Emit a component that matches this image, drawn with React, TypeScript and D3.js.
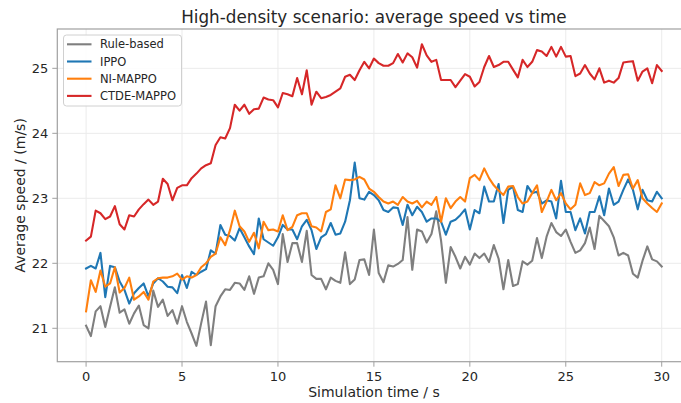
import React from "react";
import * as d3 from "d3";

const TITLE = "High-density scenario: average speed vs time";
const X_LABEL = "Simulation time / s";
const Y_LABEL = "Average speed / (m/s)";
const X_TICKS = [0, 5, 10, 15, 20, 25, 30];
const Y_TICKS = [21, 22, 23, 24, 25];
const SERIES_NAMES = ["Rule-based", "IPPO", "NI-MAPPO", "CTDE-MAPPO"];
const SERIES_COLORS = ["#7f7f7f", "#1f77b4", "#ff7f0e", "#d62728"];

// sampling times 0..30 s every 0.25 s
const times = d3.range(0, 121).map((i) => i / 4);

const ruleBased = [
  21.04, 20.88, 21.26, 21.34, 21.02, 21.33, 21.63, 21.24, 21.29, 21.07,
  21.23, 21.35, 21.05, 21.0, 21.58, 21.33, 21.44, 21.19, 21.28, 21.07,
  21.34, 21.1, 20.92, 20.73, 21.08, 21.41, 20.74, 21.34, 21.49, 21.6,
  21.59, 21.7, 21.69, 21.59, 21.8, 21.53, 21.78, 21.8, 22.0, 21.9,
  21.68, 22.45, 22.02, 22.31, 22.31, 22.02, 22.5, 21.82, 21.76, 21.76,
  21.6, 21.78, 21.73, 21.7, 22.17, 21.68, 21.75, 22.05, 22.06, 21.82,
  22.52, 21.85, 21.71, 21.97, 21.95, 21.99, 22.05, 22.71, 21.9, 22.52,
  22.49, 22.32, 22.45, 22.8, 22.35, 21.7, 22.25, 22.1, 21.92, 22.1,
  21.98, 22.15, 22.08, 22.15, 22.02, 22.28, 22.07, 21.6, 22.05, 21.65,
  21.68, 22.03, 21.98, 22.04, 22.39, 22.08, 22.41, 22.62, 22.48, 22.42,
  22.52, 22.33, 22.16, 22.2, 22.31, 22.55, 22.22, 22.73, 22.65, 22.57,
  22.4, 22.12, 22.16, 22.12, 21.84, 21.78, 22.04, 22.26, 22.06, 22.03,
  21.95,
];

const ippo = [
  21.92, 21.96, 21.92, 22.16, 21.48, 21.96, 21.94, 21.72, 21.59, 21.38,
  21.54, 21.62, 21.69, 21.49, 21.69, 21.77, 21.72, 21.64, 21.63, 21.54,
  21.82, 21.62, 21.87, 21.82, 21.87, 21.91, 22.2, 22.15, 22.59, 22.44,
  22.42, 22.35, 22.54, 22.4, 22.26, 22.14, 22.69, 22.37, 22.32, 22.27,
  22.4, 22.59, 22.52, 22.52, 22.37, 22.57, 22.67, 22.51, 22.22, 22.4,
  22.45, 22.62, 22.44, 22.46, 22.64, 22.97, 23.55, 23.0, 22.98, 23.1,
  23.05, 22.97, 22.82, 22.79, 22.86, 22.85, 22.59, 22.9, 22.74, 22.87,
  22.79, 22.64, 22.69, 22.69, 22.64, 22.44, 22.64, 22.67, 22.74, 22.83,
  22.52, 22.82, 22.77, 23.18, 22.95, 22.95, 23.22, 22.62, 23.13, 23.18,
  22.82, 22.79, 23.19, 23.08, 23.1, 22.92, 22.97, 22.95, 22.69, 23.27,
  22.79, 22.79, 22.51, 22.69, 22.46, 22.79, 22.79, 23.03, 22.74, 23.15,
  22.9, 22.95, 23.13, 23.29, 23.13, 22.83, 23.13, 22.97, 22.95, 23.1,
  23.0,
];

const niMappo = [
  21.26, 21.74, 21.56, 21.89, 21.64, 21.69, 21.94, 21.55, 21.62, 21.78,
  21.44, 21.49, 21.56, 21.44, 21.72, 21.77, 21.78, 21.78, 21.8, 21.84,
  21.75, 21.8, 21.78, 21.82, 21.94, 22.0, 22.1, 22.15, 22.4, 22.28,
  22.51, 22.81, 22.57, 22.49, 22.33, 22.47, 22.23, 22.64, 22.51, 22.52,
  22.49, 22.74, 22.51, 22.56, 22.74, 22.77, 22.77, 22.57, 22.55, 22.49,
  22.79, 22.83, 23.2, 23.0, 23.29, 23.28, 23.29, 23.33, 23.29, 23.15,
  23.1, 23.02, 22.95, 22.92, 22.95, 22.9, 23.02, 22.95, 22.92, 22.96,
  22.86, 22.95, 22.9, 23.02, 22.64, 23.0, 22.85, 22.95, 23.02, 22.95,
  23.31, 23.36, 23.28, 23.46, 23.31, 23.2, 23.12, 23.05, 23.18, 23.19,
  23.02, 22.92, 22.95, 23.08, 23.2, 22.79, 22.95, 23.13, 22.97, 23.08,
  22.92, 22.83, 22.9, 23.23, 23.05, 23.08, 23.25, 23.2, 23.23, 23.38,
  23.48, 23.19, 23.36, 23.37, 23.15, 23.28, 23.0, 22.92, 22.85, 22.79,
  22.92,
];

const ctdeMappo = [
  22.35, 22.41, 22.81, 22.77, 22.68, 22.72, 22.88, 22.6, 22.52, 22.74,
  22.72, 22.83, 22.91, 22.98, 22.9, 22.95, 23.3, 23.22, 22.97, 23.16,
  23.2, 23.2, 23.31, 23.38, 23.46, 23.51, 23.54, 23.82, 23.94, 23.92,
  24.08, 24.44, 24.35, 24.44, 24.3, 24.37, 24.38, 24.55, 24.52, 24.51,
  24.4, 24.62, 24.6, 24.57, 24.85, 24.6, 24.97, 24.44, 24.64, 24.54,
  24.56, 24.59, 24.64, 24.69, 24.87, 24.9, 24.82, 24.97, 25.1, 25.0,
  25.15, 25.08, 25.04, 25.04, 25.08, 25.22, 25.09, 25.23, 25.17, 25.01,
  25.37, 25.2, 25.1, 25.13, 24.82, 24.82, 24.82, 24.71, 24.81, 24.91,
  24.87, 24.72, 24.79, 25.02, 25.19, 25.02, 25.05, 25.1, 25.1, 24.98,
  24.86, 25.13, 25.02, 25.1, 25.28, 25.26, 25.19, 25.33, 25.18, 25.33,
  25.18, 25.19, 24.88, 24.92, 25.05, 24.92, 24.83, 25.0, 24.78, 24.81,
  24.78, 24.85, 25.09, 25.1, 25.11, 24.81, 24.95, 25.0, 24.77, 25.05,
  24.96,
];

const seriesValues = [ruleBased, ippo, niMappo, ctdeMappo];

const W = 681;
const H = 403;
const FONT = "DejaVu Sans, Verdana, sans-serif";

export default function App() {
  const left = 57.3;
  const right = 690.5;
  const top = 29;
  const bottom = 361.7;

  const x = d3.scaleLinear().domain([-1.5, 31.5]).range([left, right]);
  const y = d3.scaleLinear().domain([20.486, 25.605]).range([bottom, top]);

  const line = d3
    .line<number>()
    .x((_, i) => x(times[i]))
    .y((d) => y(d));

  const spine = "#a0a0a0";
  const grid = "#ebebeb";
  const textColor = "#262626";

  const legendX = 63.5;
  const legendY = 35;
  const rowH = 17.2;

  return (
    <svg
      width={W}
      height={H}
      style={{ position: "absolute", left: 0, top: 0, background: "#fff" }}
      fontFamily={FONT}
    >
      <rect x={0} y={0} width={W} height={H} fill="#fff" />
      <defs>
        <clipPath id="plotclip">
          <rect x={left} y={top} width={right - left} height={bottom - top} />
        </clipPath>
      </defs>
      {/* grid */}
      {X_TICKS.map((t) => (
        <line key={"gx" + t} x1={x(t)} x2={x(t)} y1={top} y2={bottom} stroke={grid} strokeWidth={1} />
      ))}
      {Y_TICKS.map((v) => (
        <line key={"gy" + v} x1={left} x2={right} y1={y(v)} y2={y(v)} stroke={grid} strokeWidth={1} />
      ))}
      {/* lines */}
      <g clipPath="url(#plotclip)">
        {seriesValues.map((vals, k) => (
          <path
            key={SERIES_NAMES[k]}
            d={line(vals) || ""}
            fill="none"
            stroke={SERIES_COLORS[k]}
            strokeWidth={2.1}
            strokeLinejoin="round"
            strokeLinecap="square"
          />
        ))}
      </g>
      {/* spines */}
      <rect x={left} y={top} width={right - left} height={bottom - top} fill="none" stroke={spine} strokeWidth={1.2} />
      {/* x ticks */}
      {X_TICKS.map((t) => (
        <g key={"tx" + t}>
          <line x1={x(t)} x2={x(t)} y1={bottom} y2={bottom + 5} stroke={spine} strokeWidth={1} />
          <text x={x(t)} y={bottom + 19} textAnchor="middle" fontSize={13} fill={textColor}>
            {t}
          </text>
        </g>
      ))}
      {/* y ticks */}
      {Y_TICKS.map((v) => (
        <g key={"ty" + v}>
          <line x1={left - 5} x2={left} y1={y(v)} y2={y(v)} stroke={spine} strokeWidth={1} />
          <text x={left - 9} y={y(v) + 4.6} textAnchor="end" fontSize={13} fill={textColor}>
            {v}
          </text>
        </g>
      ))}
      {/* labels */}
      <text x={(left + right) / 2} y={23} textAnchor="middle" fontSize={16.8} fill={textColor}>
        {TITLE}
      </text>
      <text x={374} y={397} textAnchor="middle" fontSize={14} fill={textColor}>
        {X_LABEL}
      </text>
      <text
        transform={`translate(25, ${(top + bottom) / 2}) rotate(-90)`}
        textAnchor="middle"
        fontSize={14}
        fill={textColor}
      >
        {Y_LABEL}
      </text>
      {/* legend */}
      <rect
        x={legendX}
        y={legendY}
        width={118}
        height={71}
        rx={3}
        fill="#fff"
        fillOpacity={0.85}
        stroke="#d0d0d0"
        strokeWidth={1}
      />
      {SERIES_NAMES.map((name, k) => {
        const cy = legendY + 9.3 + k * rowH;
        return (
          <g key={"lg" + name}>
            <line x1={legendX + 3.5} x2={legendX + 28} y1={cy} y2={cy} stroke={SERIES_COLORS[k]} strokeWidth={2.1} />
            <text x={legendX + 36.5} y={cy + 4.1} fontSize={11.5} fill={textColor}>
              {name}
            </text>
          </g>
        );
      })}
    </svg>
  );
}
